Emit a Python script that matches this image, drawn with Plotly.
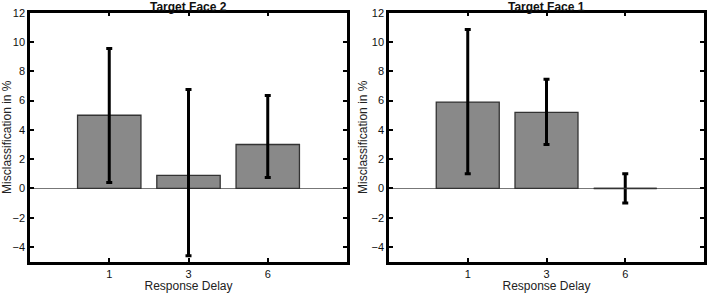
import plotly.graph_objects as go

categories = ["1", "3", "6"]
face2_values = [5.0, 0.9, 3.0]
face2_err_plus = [4.55, 5.85, 3.35]
face2_err_minus = [4.6, 5.5, 2.25]
face1_values = [5.9, 5.2, 0.0]
face1_err_plus = [4.95, 2.25, 1.0]
face1_err_minus = [4.9, 2.2, 1.0]
titles = ["Target Face 2", "Target Face 1"]
y_ticks = [-4, -2, 0, 2, 4, 6, 8, 10, 12]

FONT = "Liberation Sans, Arial, sans-serif"
BAR_W = 0.8
W, H = 707, 293


def px_x(p):
    return p / W


def px_y(p):
    return (H - p) / H


pos = list(range(1, len(categories) + 1))

fig = go.Figure()
panels = [
    (face2_values, face2_err_plus, face2_err_minus, "x", "y"),
    (face1_values, face1_err_plus, face1_err_minus, "x2", "y2"),
]
for vals, ep, em, xa, ya in panels:
    fig.add_trace(go.Bar(
        x=pos, y=vals, width=BAR_W,
        marker=dict(color="#898989", line=dict(color="#333333", width=1.3)),
        error_y=dict(type="data", symmetric=False, array=ep, arrayminus=em,
                     color="black", thickness=3, width=3),
        xaxis=xa, yaxis=ya, showlegend=False,
    ))
    for p, v in zip(pos, vals):
        if v == 0:
            fig.add_trace(go.Scatter(
                x=[p - BAR_W / 2, p + BAR_W / 2], y=[v, v], mode="lines",
                line=dict(color="#333333", width=1.5),
                xaxis=xa, yaxis=ya, showlegend=False, hoverinfo="skip",
            ))

ydom = [px_y(261.7), px_y(12.7)]
common_x = dict(
    range=[0, len(categories) + 1], tickvals=pos, ticktext=categories,
    showline=True, linecolor="black", linewidth=2.5,
    mirror="allticks", ticks="inside", ticklen=4, tickwidth=2, tickcolor="black",
    showgrid=False, zeroline=False, ticklabeloverflow="allow",
    tickfont=dict(family=FONT, size=11, color="#111111"),
    title=dict(text="Response Delay", font=dict(family=FONT, size=12, color="#222222")),
)
common_y = dict(
    range=[-5, 12], tickvals=y_ticks, showline=True, linecolor="black", linewidth=2.5,
    mirror="allticks", ticks="inside", ticklen=4, tickwidth=2, tickcolor="black",
    showgrid=False, zeroline=True, zerolinecolor="#777777", zerolinewidth=1.2,
    ticklabeloverflow="allow", automargin=True,
    tickfont=dict(family=FONT, size=11, color="#111111"),
    title=dict(text="Misclassification in %", font=dict(family=FONT, size=12, color="#222222"), standoff=2),
)

fig.update_layout(
    width=W, height=H,
    margin=dict(l=0, r=0, t=0, b=0, autoexpand=False),
    paper_bgcolor="white", plot_bgcolor="white",
    xaxis=dict(domain=[px_x(30), px_x(347)], anchor="y", **common_x),
    yaxis=dict(domain=ydom, anchor="x", **common_y),
    xaxis2=dict(domain=[px_x(389), px_x(704)], anchor="y2", **common_x),
    yaxis2=dict(domain=ydom, anchor="x2", **common_y),
)

for t, xa in zip(titles, ["x domain", "x2 domain"]):
    fig.add_annotation(
        text="<b>" + t + "</b>", x=0.5, xref=xa, y=ydom[1], yref="paper",
        yanchor="bottom", yshift=-3, showarrow=False,
        font=dict(family=FONT, size=12, color="#111111"),
    )

fig.write_html("out.html", config={"displayModeBar": False},
               post_script="document.body.style.margin='0px';")
